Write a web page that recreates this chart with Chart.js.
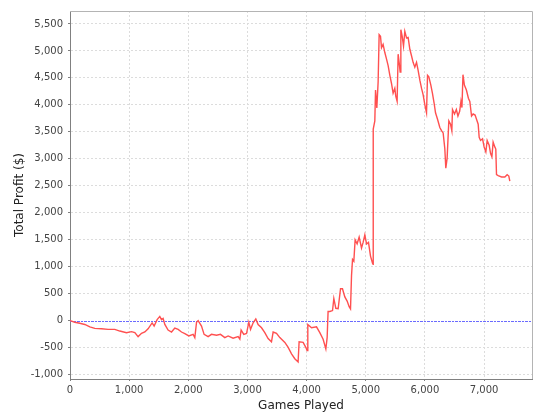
<!DOCTYPE html>
<html>
<head>
<meta charset="utf-8">
<script src="https://cdn.jsdelivr.net/npm/chart.js@4.4.0/dist/chart.umd.min.js"></script>
<style>
  html, body { margin: 0; padding: 0; background: #fff; }
  #wrap { width: 540px; height: 420px; }
</style>
</head>
<body>
<div id="wrap"><canvas id="profitChart" width="540" height="420"></canvas></div>
<script>
// partite giocate (asse x)
const games = [
  0, 14, 81, 166, 250, 335, 419, 533, 644, 757, 842, 955, 1040, 1096, 1151, 1209, 1265, 1320, 1388, 1422,
  1473, 1518, 1547, 1574, 1603, 1658, 1716, 1772, 1828, 1885, 1941, 2009, 2081, 2110, 2139, 2166, 2223, 2267,
  2335, 2392, 2477, 2544, 2617, 2673, 2757, 2842, 2871, 2893, 2938, 2984, 3023, 3052, 3096, 3141, 3180, 3238,
  3293, 3349, 3406, 3434, 3491, 3547, 3632, 3688, 3745, 3800, 3856, 3873, 3941, 3986, 4008, 4020, 4083, 4167,
  4223, 4279, 4325, 4347, 4363, 4392, 4438, 4460, 4494, 4533, 4573, 4606, 4646, 4685, 4719, 4742, 4759, 4776,
  4798, 4820, 4854, 4888, 4928, 4955, 4984, 5013, 5046, 5080, 5114, 5124, 5126, 5153, 5165, 5187, 5209, 5226,
  5249, 5266, 5293, 5322, 5351, 5378, 5407, 5435, 5462, 5491, 5508, 5530, 5547, 5564, 5581, 5593, 5615, 5638,
  5660, 5689, 5716, 5745, 5773, 5800, 5829, 5858, 5885, 5914, 5943, 5970, 5998, 6027, 6044, 6066, 6100, 6128,
  6155, 6179, 6213, 6252, 6280, 6308, 6336, 6353, 6375, 6404, 6433, 6455, 6466, 6500, 6531, 6558, 6587, 6609,
  6626, 6643, 6667, 6701, 6735, 6759, 6788, 6815, 6848, 6872, 6900, 6917, 6940, 6974, 7001, 7030, 7052, 7086,
  7110, 7132, 7153, 7181, 7198, 7210, 7238, 7295, 7351, 7390, 7418, 7435
];
// profitto totale ($)
const profit = [
  0, 0, -30, -50, -72, -115, -145, -152, -163, -163, -194, -224, -205, -224, -297, -236, -212, -152, -43, -100,
  18, 78, 18, 40, -72, -175, -212, -140, -163, -212, -242, -285, -255, -315, -30, 0, -103, -255,
  -297, -255, -272, -255, -315, -285, -327, -297, -345, -175, -255, -240, -30, -163, -40, 30, -72, -133,
  -224, -333, -393, -212, -235, -315, -405, -496, -616, -707, -768, -393, -405, -496, -556, -72, -133, -115,
  -224, -345, -525, -315, 168, 168, 186, 410, 228, 220, 591, 590, 440, 362, 259, 217, 833, 1134,
  1100, 1497, 1424, 1550, 1346, 1450, 1587, 1420, 1450, 1196, 1062, 1044, 3552, 3702, 4276, 3943, 4427, 5302,
  5272, 5061, 5121, 4970, 4849, 4729, 4548, 4396, 4215, 4305, 4155, 4064, 4940, 4789, 4608, 5393, 5273, 5092,
  5364, 5242, 5250, 5030, 4910, 4789, 4699, 4789, 4639, 4458, 4305, 4186, 4005, 3852, 4548, 4520, 4367, 4210,
  4034, 3852, 3733, 3581, 3521, 3480, 3189, 2827, 3008, 3702, 3640, 3521, 3914, 3830, 3914, 3793, 3880, 4064,
  3950, 4559, 4367, 4276, 4124, 4064, 3793, 3830, 3810, 3733, 3642, 3400, 3340, 3370, 3219, 3128, 3340, 3250,
  3098, 3037, 3309, 3220, 3180, 2705, 2687, 2663, 2663, 2705, 2680, 2584
];
const xTicks = [0, 1000, 2000, 3000, 4000, 5000, 6000, 7000];
const yTicks = [-1000, -500, 0, 500, 1000, 1500, 2000, 2500, 3000, 3500, 4000, 4500, 5000, 5500];

const fmt = v => Number(v).toLocaleString('en-US');

// linea dello zero + bordo superiore/destro
const extras = {
  id: 'extras',
  beforeDatasetsDraw(chart) {
    const { ctx, chartArea: a, scales } = chart;
    const y0 = scales.y.getPixelForValue(0);
    ctx.save();
    ctx.strokeStyle = '#6b6bff';
    ctx.lineWidth = 1;
    ctx.setLineDash([3, 1, 2, 1]);
    ctx.beginPath();
    ctx.moveTo(a.left, Math.round(y0) + 0.5);
    ctx.lineTo(a.right, Math.round(y0) + 0.5);
    ctx.stroke();
    ctx.restore();
  },
  afterDraw(chart) {
    const { ctx, chartArea: a } = chart;
    ctx.save();
    ctx.strokeStyle = '#b4b4b4';
    ctx.lineWidth = 1;
    ctx.beginPath();
    ctx.moveTo(a.left, Math.round(a.top) + 0.5);
    ctx.lineTo(Math.round(a.right) + 0.5, Math.round(a.top) + 0.5);
    ctx.lineTo(Math.round(a.right) + 0.5, a.bottom);
    ctx.stroke();
    ctx.restore();
  }
};

new Chart(document.getElementById('profitChart'), {
  type: 'line',
  data: {
    datasets: [{
      data: games.map((g, i) => ({ x: g, y: profit[i] })),
      borderColor: '#ff5050',
      borderWidth: 1.4,
      pointRadius: 0,
      tension: 0,
      fill: false
    }]
  },
  options: {
    responsive: false,
    animation: false,
    layout: { padding: { top: 4, right: 8, left: 0, bottom: 0 } },
    plugins: { legend: { display: false }, tooltip: { enabled: false } },
    scales: {
      x: {
        type: 'linear',
        min: 0,
        max: 7810,
        afterBuildTicks: s => { s.ticks = xTicks.map(v => ({ value: v })); },
        afterFit: s => { s.height = 41; },
        ticks: { callback: fmt, color: '#444', padding: 3, maxRotation: 0, font: { family: 'DejaVu Sans', size: 10 } },
        grid: { color: '#dcdcdc', tickColor: '#808080', tickLength: 2 },
        border: { color: '#808080', dash: [2, 2] },
        title: { display: true, text: 'Games Played', color: '#222', padding: { top: 0, bottom: 7 }, font: { family: 'DejaVu Sans', size: 12 } }
      },
      y: {
        min: -1083,
        max: 5740,
        afterBuildTicks: s => { s.ticks = yTicks.map(v => ({ value: v })); },
        afterFit: s => { s.width = 70; },
        ticks: { callback: fmt, color: '#444', padding: 5, font: { family: 'DejaVu Sans', size: 10 } },
        grid: {
          color: c => (c.tick && c.tick.value === 0 ? 'rgba(0,0,0,0)' : '#dcdcdc'),
          tickColor: '#808080',
          tickLength: 2
        },
        border: { color: '#808080', dash: [2, 2] },
        title: { display: true, text: 'Total Profit ($)', color: '#222', padding: { top: 13, bottom: 0 }, font: { family: 'DejaVu Sans', size: 12 } }
      }
    }
  },
  plugins: [extras]
});
</script>
</body>
</html>
